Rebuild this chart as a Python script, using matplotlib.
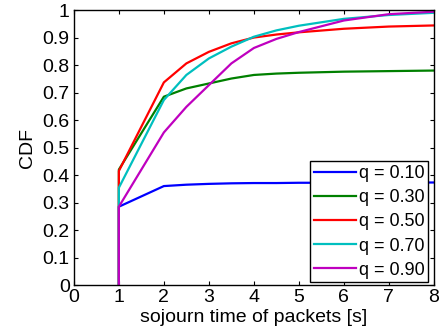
import matplotlib
matplotlib.use("Agg")
import matplotlib.pyplot as plt

plt.rcParams['font.family'] = ['Liberation Sans', 'DejaVu Sans']

x = [1, 1, 2, 2.5, 3, 3.5, 4, 4.5, 5, 6, 7, 8]
q10 = [0, 0.285, 0.36, 0.365, 0.368, 0.37, 0.371, 0.371, 0.372, 0.372, 0.373, 0.373]
q30 = [0, 0.42, 0.685, 0.715, 0.733, 0.751, 0.764, 0.769, 0.772, 0.776, 0.778, 0.78]
q50 = [0, 0.415, 0.737, 0.806, 0.848, 0.879, 0.90, 0.911, 0.919, 0.932, 0.94, 0.944]
q70 = [0, 0.354, 0.673, 0.764, 0.824, 0.867, 0.903, 0.926, 0.943, 0.968, 0.982, 0.99]
q90 = [0, 0.285, 0.555, 0.648, 0.727, 0.806, 0.862, 0.895, 0.92, 0.962, 0.985, 0.994]
labels = ['q = 0.10', 'q = 0.30', 'q = 0.50', 'q = 0.70', 'q = 0.90']
colors = ['#0000ff', '#008000', '#ff0000', '#00bfbf', '#bf00bf']

fig = plt.figure(figsize=(4.45, 3.35), dpi=100)
ax = fig.add_axes([0.166, 0.149, 0.809, 0.821])
for ys, lab, c in zip([q10, q30, q50, q70, q90], labels, colors):
    ax.plot(x, ys, color=c, lw=1.6, label=lab)

ax.set_xlim(0, 8)
ax.set_ylim(0, 1)
ax.set_xticks(range(0, 9))
ax.set_yticks([i / 10 for i in range(11)])
ax.set_yticklabels(['0', '0.1', '0.2', '0.3', '0.4', '0.5', '0.6', '0.7', '0.8', '0.9', '1'])
ax.tick_params(direction='in', top=True, right=True, labelsize=14, length=3, width=0.8, pad=3)
for s in ax.spines.values():
    s.set_linewidth(1.0)
ax.set_xlabel('sojourn time of packets [s]', fontsize=14, labelpad=2)
ax.set_ylabel('CDF', fontsize=14, labelpad=5)

leg = ax.legend(loc='lower right', bbox_to_anchor=(0.985, 0.01), borderaxespad=0,
                fontsize=13, handlelength=2.3, handletextpad=0.2, labelspacing=0.4,
                fancybox=False, framealpha=1, edgecolor='black', borderpad=0.2)
leg.get_frame().set_linewidth(1.0)

fig.savefig('out.png', dpi=100)
